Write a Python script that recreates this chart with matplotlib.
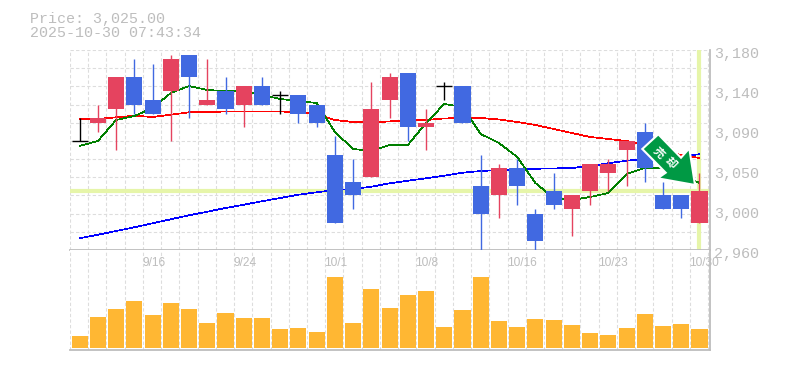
import numpy as np
import matplotlib
matplotlib.use('Agg')
import matplotlib.pyplot as plt
from matplotlib.patches import Polygon
from matplotlib.transforms import IdentityTransform, blended_transform_factory

######################################################################
# Data

opens = [3080, 3100, 3115, 3150, 3125, 3135, 3175, 3120, 3135, 3120, 3140, 3130,
         3130, 3120, 3065, 3035, 3040, 3125, 3155, 3095, 3140, 3140, 3030, 3020,
         3050, 3000, 3025, 3005, 3025, 3045, 3070, 3090, 3020, 3020, 2990]
closes = [3080, 3105, 3150, 3120, 3110, 3170, 3150, 3125, 3115, 3140, 3120, 3130,
          3110, 3100, 2990, 3020, 3115, 3150, 3095, 3100, 3140, 3100, 3000, 3050,
          3030, 2970, 3010, 3020, 3055, 3055, 3080, 3050, 3005, 3005, 3025]
highs = [3105, 3120, 3150, 3170, 3165, 3175, 3175, 3170, 3150, 3140, 3150, 3135,
         3130, 3120, 3085, 3060, 3145, 3155, 3155, 3115, 3145, 3140, 3065, 3055,
         3060, 3005, 3045, 3020, 3055, 3060, 3080, 3100, 3035, 3020, 3045]
lows = [3080, 3090, 3070, 3110, 3110, 3080, 3105, 3120, 3110, 3095, 3120, 3110,
        3100, 3095, 2990, 3005, 3040, 3105, 3080, 3070, 3125, 3100, 2960, 2995,
        3010, 2960, 3005, 2975, 3010, 3025, 3030, 3035, 3005, 2995, 2990]

ma_short = [3074.4, 3079.9, 3103.0, 3107.4, 3116.2, 3132.7, 3140.4, 3136.0, 3134.9,
            3134.9, 3130.5, 3126.1, 3123.9, 3121.7, 3089.8, 3071.1, 3068.9, 3075.5,
            3075.5, 3099.7, 3120.6, 3117.3, 3087.6, 3077.7, 3062.3, 3033.7, 3017.2,
            3015.0, 3018.3, 3022.7, 3043.6, 3050.2, 3050.2, 3042.5, 3033.7]
ma_mid = [3104.1, 3104.1, 3106.0, 3107.7, 3106.3, 3108.8, 3111.5, 3111.5, 3112.4,
          3112.4, 3112.4, 3112.4, 3111.5, 3109.6, 3103.0, 3100.8, 3100.3, 3101.4,
          3103.0, 3103.0, 3104.7, 3105.2, 3105.2, 3103.6, 3100.8, 3097.5, 3093.1,
          3088.7, 3084.3, 3082.1, 3079.9, 3075.5, 3070.0, 3064.5, 3061.2]
ma_long = [2972.9, 2976.8, 2980.9, 2985.0, 2989.4, 2993.8, 2998.2, 3002.1, 3006.2,
           3009.8, 3013.6, 3017.2, 3020.8, 3023.5, 3026.0, 3027.1, 3029.6, 3033.4,
           3036.2, 3038.9, 3041.7, 3045.0, 3046.9, 3048.0, 3048.6, 3049.4, 3049.7,
           3050.2, 3052.4, 3055.4, 3058.2, 3060.1, 3062.3, 3063.4, 3065.3]

volumes = [12, 31, 39, 47, 33, 45, 39, 25, 35, 30, 30, 19, 20, 16, 71, 25, 59, 40,
           53, 57, 21, 38, 71, 27, 21, 29, 28, 23, 15, 13, 20, 34, 22, 24, 19]

date_labels = ['9/16', '9/24', '10/1', '10/8', '10/16', '10/23', '10/30']
date_index = [4, 9, 14, 19, 24, 29, 34]

price_ticks = [3180, 3136, 3092, 3048, 3004, 2960]
price_labels = ['3,180', '3,140', '3,090', '3,050', '3,000', '2,960']

last_price = 3025
title_lines = 'Price: 3,025.00\n2025-10-30 07:43:34'

######################################################################
# Styles

W, H = 785, 370
gray = '#bdbdbd'
gridColor = '#dddddd'
paleGreen = '#e6f5a9'
upColor = '#e5435f'
downColor = '#4169e1'
barColor = '#ffb733'
mono = 'Liberation Mono'

fig = plt.figure(figsize=(W / 100, H / 100), dpi=100, facecolor='white')


def make_axes(top, bottom):
    ax = fig.add_axes([70 / W, 1 - bottom / H, 640 / W, (bottom - top) / H])
    ax.set_xlim(0, 640 / 18.23)
    ax.set_xticks(np.arange(36))
    ax.tick_params(length=0, labelbottom=False, labelleft=False)
    ax.grid(True, axis='x', color=gridColor, linestyle=(0, (3, 2)), linewidth=0.8)
    ax.set_axisbelow(True)
    for side in ['top', 'left']:
        ax.spines[side].set_visible(False)
    for side in ['right', 'bottom']:
        ax.spines[side].set_color(gray)
        ax.spines[side].set_linewidth(1.3)
    return ax


axPrice = make_axes(50, 250)
axVol = make_axes(250, 350)
x = np.arange(len(opens)) + 0.53

######################################################################
# Price panel

axPrice.set_ylim(2960, 3180)
axPrice.set_yticks(np.linspace(2960, 3180, 12))
axPrice.grid(True, axis='y', color=gridColor, linestyle=(0, (3, 2)), linewidth=0.8)

axPrice.axhline(last_price, color=paleGreen, linewidth=3, zorder=1)
axPrice.axvline(x[-1], ymax=0.99, color=paleGreen, linewidth=3, zorder=1)

# the reference lines are stepped, so no antialiasing here
axPrice.plot(x, ma_long, color='#0000ff', linewidth=0.5, antialiased=False, zorder=2)
axPrice.plot(x, ma_mid, color='#ff0000', linewidth=0.5, antialiased=False, zorder=2)
axPrice.plot(x, ma_short, color='#007f00', linewidth=0.5, antialiased=False, zorder=2)

for i in range(len(x)):
    if opens[i] == closes[i]:
        colour = 'black'
    elif closes[i] > opens[i]:
        colour = upColor
    else:
        colour = downColor
    axPrice.vlines(x[i], lows[i], highs[i], color=colour, linewidth=1.0, zorder=3)
    if opens[i] == closes[i]:
        axPrice.hlines(opens[i], x[i] - 0.44, x[i] + 0.44, color='black', linewidth=1.0, zorder=3)
    else:
        axPrice.bar(x[i], abs(closes[i] - opens[i]), bottom=min(opens[i], closes[i]),
                    width=0.88, color=colour, linewidth=0, zorder=4)

for value, label in zip(price_ticks, price_labels):
    axPrice.annotate(label, (1, value), xycoords=axPrice.get_yaxis_transform(),
                     xytext=(4, -4), textcoords='offset pixels', ha='left', va='center',
                     family=mono, fontsize=10.8, color=gray, annotation_clip=False)

######################################################################
# Volume panel

axVol.set_ylim(-2, 98)
axVol.bar(x, volumes, width=0.88, color=barColor, linewidth=0, zorder=3)

labelTrans = blended_transform_factory(axVol.transData, axVol.transAxes)
for idx, label in zip(date_index, date_labels):
    axVol.annotate(label, (x[idx], 1), xycoords=labelTrans, xytext=(-10.5, -13),
                   textcoords='offset pixels', ha='left', va='center', family='Liberation Sans',
                   fontsize=8.6, color=gray, annotation_clip=False, zorder=6)

######################################################################
# Title and arrow badge

fig.text(30 / W, 1 - 11.5 / H, title_lines, family=mono, fontsize=10.8, color=gray,
         ha='left', va='top', linespacing=1.05)

# outline points in pixels from the top left corner
arrow_px = [(695, 185), (689.3, 148.3), (681, 157.7), (658.3, 134.3), (642.3, 149),
            (665.7, 172.7), (657.7, 178.3)]
arrow_xy = [(px, H - py) for px, py in arrow_px]
fig.add_artist(Polygon(arrow_xy, closed=True, transform=IdentityTransform(),
                       facecolor='#009944', edgecolor='white', linewidth=1.5, zorder=10))
fig.text(659 / W, 1 - 153 / H, '売', family='Noto Sans CJK JP', fontweight='bold', fontsize=8,
         color='white', rotation=-45, ha='center', va='center', zorder=11)
fig.text(671 / W, 1 - 163 / H, '却', family='Noto Sans CJK JP', fontweight='bold', fontsize=8,
         color='white', rotation=-45, ha='center', va='center', zorder=11)

plt.savefig('out.png', dpi=100)
plt.close('all')
